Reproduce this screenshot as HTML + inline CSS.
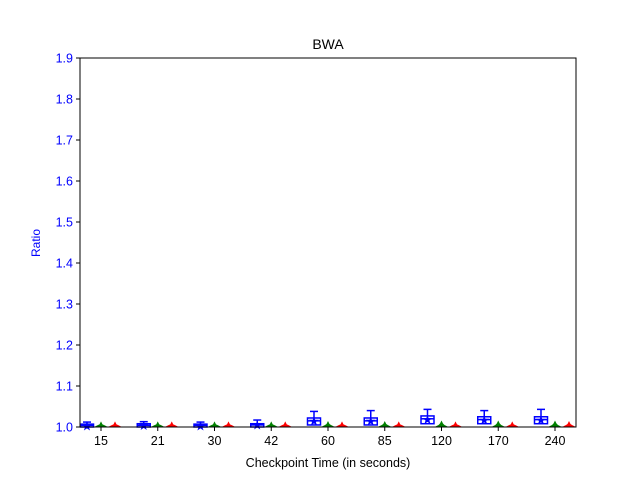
<!DOCTYPE html>
<html><head><meta charset="utf-8"><style>
body{margin:0;background:#fff;}
svg{display:block;font-family:"Liberation Sans","DejaVu Sans",sans-serif;}
</style></head><body>
<svg id="chart" width="640" height="480">
<rect width="640" height="480" fill="#fff"/>
<text x="328" y="49" font-size="14" text-anchor="middle">BWA</text>
<g id="marks"></g>
<rect x="80" y="58" width="496" height="369" fill="none" stroke="#000" stroke-width="1"/>
<g id="axes"></g>
<text x="226" y="0" font-size="12" fill="#0000ff" text-anchor="middle" transform="translate(40,243) rotate(-90) translate(-226,0)">Ratio</text>
<text x="328" y="467" font-size="12.5" text-anchor="middle">Checkpoint Time (in seconds)</text>
</svg>
<script>
const categories=["15","21","30","42","60","85","120","170","240"];
const yTicks=[1.0,1.1,1.2,1.3,1.4,1.5,1.6,1.7,1.8,1.9];
const blueQ1=[1.0,1.0,1.0,1.0,1.005,1.005,1.008,1.008,1.008];
const blueMed=[1.004,1.004,1.004,1.005,1.015,1.015,1.02,1.018,1.018];
const blueQ3=[1.007,1.008,1.007,1.008,1.022,1.022,1.027,1.025,1.025];
const blueHi=[1.012,1.013,1.012,1.017,1.038,1.04,1.043,1.04,1.043];
const blueMean=[1.004,1.005,1.004,1.006,1.016,1.016,1.02,1.018,1.018];
const greenVal=[1.004,1.004,1.004,1.004,1.005,1.005,1.006,1.006,1.006];
const redVal=[1.004,1.004,1.004,1.004,1.004,1.004,1.004,1.004,1.005];
const NS="http://www.w3.org/2000/svg";
const x0=80,x1=576,y0=427,y1=58;
function yS(v){return y0-(v-1.0)/0.9*(y0-y1);}
function xS(i){return 101+i*56.75;}
function mk(tag,attrs,parent){const e=document.createElementNS(NS,tag);for(const k in attrs)e.setAttribute(k,attrs[k]);parent.appendChild(e);return e;}
const axes=document.getElementById('axes'),marks=document.getElementById('marks');
yTicks.forEach(t=>{const y=yS(t);
 const l=mk('line',{x1:x0-4,x2:x0,y1:y,y2:y,stroke:'#000'},axes);
 
 
 const tx=mk('text',{x:x0-7,y:y+4.5,'font-size':12.5,fill:'#0000ff','text-anchor':'end'},axes);
 tx.textContent=t.toFixed(1);
 
 
});
categories.forEach((c,i)=>{const x=xS(i);
 const l=mk('line',{x1:x,x2:x,y1:y0,y2:y0+4,stroke:'#000'},axes);
 
 
 const tx=mk('text',{x:x,y:y0+18,'font-size':12.5,'text-anchor':'middle'},axes);
 tx.textContent=c;
 
 
 const bx=x-14,w=13;
 const g=mk('g',{stroke:'#0000ff','stroke-width':1.5,fill:'none'},marks);
 
 
 mk('rect',{x:bx-w/2,y:yS(blueQ3[i]),width:w,height:Math.max(1,yS(blueQ1[i])-yS(blueQ3[i]))},g);
 mk('line',{x1:bx-w/2,x2:bx+w/2,y1:yS(blueMed[i]),y2:yS(blueMed[i])},g);
 mk('line',{x1:bx,x2:bx,y1:yS(blueQ3[i]),y2:yS(blueHi[i])},g);
 mk('line',{x1:bx-4,x2:bx+4,y1:yS(blueHi[i]),y2:yS(blueHi[i])},g);
 const m=mk('text',{x:bx,y:yS(blueMean[i])+5,'font-size':13,fill:'#0000ff','text-anchor':'middle'},marks);
 m.textContent='★';
 
 
 [[x,greenVal[i],'#008000','green'],[x+14,redVal[i],'#ff0000','red']].forEach(([px,v,col,nm])=>{
  const y=yS(v);
  const p=mk('polygon',{points:`${px-7},${y0} ${px+7},${y0} ${px+3},${y0-2} ${px+1.5},${y-1} ${px},${y-4} ${px-1.5},${y-1} ${px-3},${y0-2}`,fill:col},marks);
  
  
 });
});
</script>
</body></html>
